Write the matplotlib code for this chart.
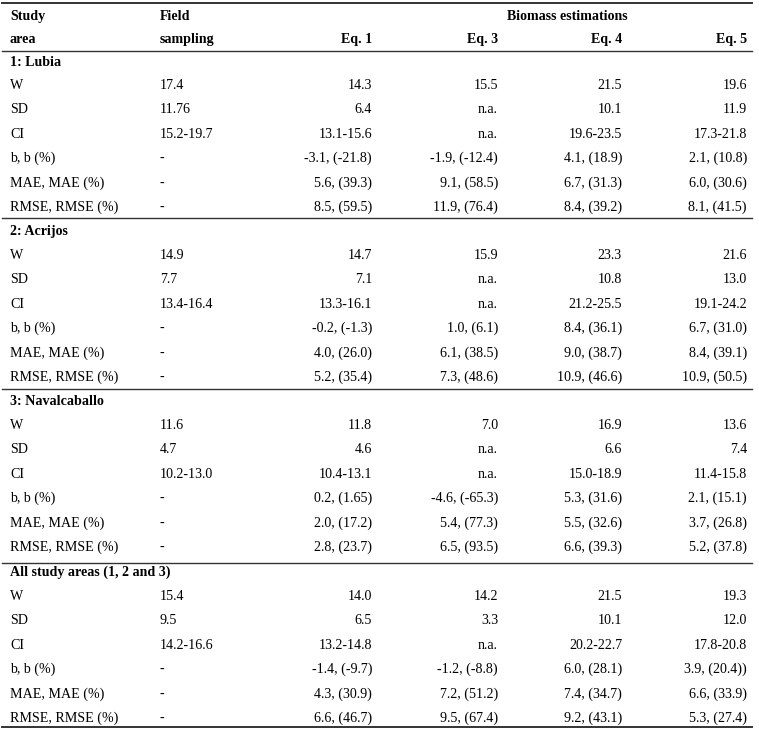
import matplotlib.pyplot as plt

plt.rcParams['font.family'] = ['Liberation Serif', 'DejaVu Serif']

columns = ["Eq. 1", "Eq. 3", "Eq. 4", "Eq. 5"]
row_labels = ["W", "SD", "CI", "b, b (%)", "MAE, MAE (%)", "RMSE, RMSE (%)"]
areas = ["1: Lubia", "2: Acrijos", "3: Navalcaballo", "All study areas (1, 2 and 3)"]

field = [
    ["17.4", "11.76", "15.2-19.7", "-", "-", "-"],
    ["14.9", "7.7", "13.4-16.4", "-", "-", "-"],
    ["11.6", "4.7", "10.2-13.0", "-", "-", "-"],
    ["15.4", "9.5", "14.2-16.6", "-", "-", "-"],
]

# per area: rows x [Eq.1, Eq.3, Eq.4, Eq.5]
lubia = [
    ["14.3", "15.5", "21.5", "19.6"],
    ["6.4", "n.a.", "10.1", "11.9"],
    ["13.1-15.6", "n.a.", "19.6-23.5", "17.3-21.8"],
    ["-3.1, (-21.8)", "-1.9, (-12.4)", "4.1, (18.9)", "2.1, (10.8)"],
    ["5.6, (39.3)", "9.1, (58.5)", "6.7, (31.3)", "6.0, (30.6)"],
    ["8.5, (59.5)", "11.9, (76.4)", "8.4, (39.2)", "8.1, (41.5)"],
]
acrijos = [
    ["14.7", "15.9", "23.3", "21.6"],
    ["7.1", "n.a.", "10.8", "13.0"],
    ["13.3-16.1", "n.a.", "21.2-25.5", "19.1-24.2"],
    ["-0.2, (-1.3)", "1.0, (6.1)", "8.4, (36.1)", "6.7, (31.0)"],
    ["4.0, (26.0)", "6.1, (38.5)", "9.0, (38.7)", "8.4, (39.1)"],
    ["5.2, (35.4)", "7.3, (48.6)", "10.9, (46.6)", "10.9, (50.5)"],
]
navalcaballo = [
    ["11.8", "7.0", "16.9", "13.6"],
    ["4.6", "n.a.", "6.6", "7.4"],
    ["10.4-13.1", "n.a.", "15.0-18.9", "11.4-15.8"],
    ["0.2, (1.65)", "-4.6, (-65.3)", "5.3, (31.6)", "2.1, (15.1)"],
    ["2.0, (17.2)", "5.4, (77.3)", "5.5, (32.6)", "3.7, (26.8)"],
    ["2.8, (23.7)", "6.5, (93.5)", "6.6, (39.3)", "5.2, (37.8)"],
]
all_areas = [
    ["14.0", "14.2", "21.5", "19.3"],
    ["6.5", "3.3", "10.1", "12.0"],
    ["13.2-14.8", "n.a.", "20.2-22.7", "17.8-20.8"],
    ["-1.4, (-9.7)", "-1.2, (-8.8)", "6.0, (28.1)", "3.9, (20.4))"],
    ["4.3, (30.9)", "7.2, (51.2)", "7.4, (34.7)", "6.6, (33.9)"],
    ["6.6, (46.7)", "9.5, (67.4)", "9.2, (43.1)", "5.3, (27.4)"],
]
estimates = [lubia, acrijos, navalcaballo, all_areas]

W, H = 759, 732
fig = plt.figure(figsize=(W / 100, H / 100), dpi=100)
ax = fig.add_axes([0, 0, 1, 1])
ax.set_xlim(0, W)
ax.set_ylim(H, 0)
ax.axis('off')

fs = 10.1
x_lab = 10
x_field = 160
x_eq = [372, 498, 622, 747]
line_c = '#333333'

def txt(x, y, s, **kw):
    ax.text(x, y, s, fontsize=fs, va='baseline', **kw)

# header
ax.plot([2, 752], [3, 3], color=line_c, lw=1.4)
txt(x_lab, 20, "Study", weight='bold')
txt(x_lab, 43, "area", weight='bold')
txt(x_field, 20, "Field", weight='bold')
txt(x_field, 43, "sampling", weight='bold')
txt(567, 20, "Biomass estimations", weight='bold', ha='center')
for x, c in zip(x_eq, columns):
    txt(x, 43, c, weight='bold', ha='right')

sep_lines = [51, 218, 389, 563]
label_base = [66, 235, 405, 576]
row_base = [89, 259, 429, 600]
row_h = 24.4
for g, area in enumerate(areas):
    ax.plot([2, 752], [sep_lines[g], sep_lines[g]], color=line_c, lw=1.0)
    txt(x_lab, label_base[g], area, weight='bold')
    for r, lab in enumerate(row_labels):
        y = row_base[g] + row_h * r
        txt(x_lab, y, lab)
        txt(x_field, y, field[g][r])
        for x, v in zip(x_eq, estimates[g][r]):
            txt(x, y, v, ha='right')

ax.plot([2, 752], [727, 727], color=line_c, lw=1.4)

fig.savefig('out.png', dpi=100, facecolor='white')
